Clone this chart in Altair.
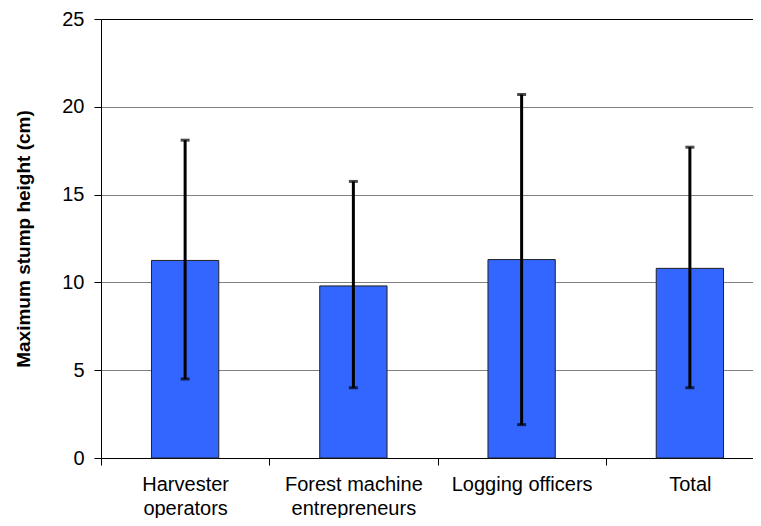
import altair as alt
import pandas as pd

categories = ["Harvester\noperators", "Forest machine\nentrepreneurs", "Logging officers", "Total"]
means = [11.25, 9.8, 11.3, 10.8]
upper = [18.1, 15.75, 20.7, 17.7]
lower = [4.5, 4.0, 1.9, 4.0]
y_ticks = [0, 5, 10, 15, 20, 25]

df = pd.DataFrame({"cat": categories, "mean": means, "hi": upper, "lo": lower})

font = "Liberation Sans"

x_scale = alt.Scale(paddingInner=0, paddingOuter=0, range=[0, 673])

x_enc = alt.X(
    "cat:N",
    sort=categories,
    title=None,
    scale=x_scale,
    axis=alt.Axis(
        labelAngle=0,
        labelExpr="split(datum.label, '\\n')",
        labelFontSize=20,
        labelLineHeight=24,
        labelColor="black",
        labelFont=font,
        labelPadding=9,
        labelBaseline="top",
        tickBand="extent",
        tickSize=7,
        tickColor="black",
        domainColor="black",
        grid=False,
    ),
)

bars = alt.Chart(df).mark_bar(
    width={"band": 0.4}, color="#3366FF", stroke="#222222", strokeWidth=1
).encode(
    x=x_enc,
    y=alt.Y(
        "mean:Q",
        title="Maximum stump height (cm)",
        scale=alt.Scale(domain=[0, 25], nice=False),
        axis=alt.Axis(
            values=y_ticks,
            labelFontSize=20,
            labelFont=font,
            labelColor="black",
            labelPadding=10,
            tickSize=7,
            tickColor="black",
            domainColor="black",
            gridColor={"condition": {"test": "datum.value == 25", "value": "black"}, "value": "#808080"},
            gridWidth=1,
            titleFont=font,
            titleFontSize=19,
            titleFontWeight="bold",
            titleColor="black",
            titlePadding=28,
        ),
    ),
)

err = alt.Chart(df).mark_rule(color="black", strokeWidth=3).encode(
    x=alt.X("cat:N", sort=categories, scale=x_scale), y="lo:Q", y2="hi:Q"
)

cap_hi = alt.Chart(df).mark_tick(color="black", thickness=3, size=9, orient="horizontal").encode(
    x=alt.X("cat:N", sort=categories, scale=x_scale), y="hi:Q"
)
cap_lo = alt.Chart(df).mark_tick(color="black", thickness=3, size=9, orient="horizontal").encode(
    x=alt.X("cat:N", sort=categories, scale=x_scale), y="lo:Q"
)

chart = alt.layer(bars, err, cap_hi, cap_lo).properties(
    width=652, height=439,
    padding={"left": 93, "top": 11, "right": 0, "bottom": 60},
    autosize=alt.AutoSizeParams(type="none"),
).configure_view(stroke=None).configure(background="white")

chart.save("out.html", embed_options={"renderer": "svg", "actions": False})
